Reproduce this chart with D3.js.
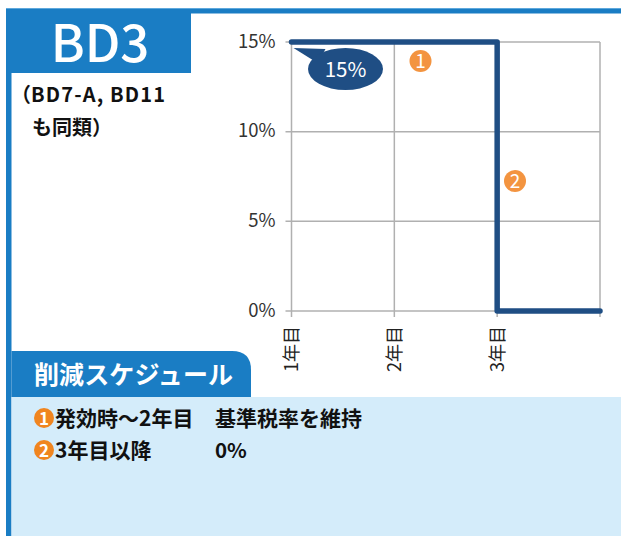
<!DOCTYPE html>
<html><head><meta charset="utf-8">
<script src="https://cdnjs.cloudflare.com/ajax/libs/d3/7.8.5/d3.min.js"></script>
<style>html,body{margin:0;padding:0;background:#fff;overflow:hidden}svg{display:block}text{font-family:"Noto Sans CJK JP","Noto Sans",sans-serif}</style>
</head><body><svg id="c" width="621" height="536"></svg>
<script>
const categories = ["1年目","2年目","3年目",""];
const stepPoints = [[0,15],[1,15],[2,15],[2,0],[3,0]];
const yTicks = [0,5,10,15];
const title = "BD3";
const subtitleParen = "（";
const subtitle = ["BD7-A, BD11","も同類）"];
const calloutLabel = "15%";
const sectionTitle = "削減スケジュール";
const scheduleRows = [["発効時〜2年目","基準税率を維持"],["3年目以降","0%"]];

const blue="#1a7dc4", navy="#1f4e84", orange="#f39440", grid="#b0b0b0";
const svg=d3.select("#c");
const x=d3.scalePoint().domain(categories.map((d,i)=>i)).range([291.5,600]);
const y=d3.scaleLinear().domain([0,15]).range([311,42]);

// frame
svg.append("rect").attr("x",6).attr("y",8).attr("width",615).attr("height",5.5).attr("fill",blue);
svg.append("rect").attr("x",6).attr("y",8).attr("width",5.5).attr("height",528).attr("fill",blue);
svg.append("rect").attr("x",6).attr("y",8).attr("width",615).attr("height",1).attr("fill","#5ea8dc");
svg.append("rect").attr("x",6).attr("y",13).attr("width",185).attr("height",60).attr("fill",blue);
svg.append("text").attr("x",100).attr("y",61.5).attr("text-anchor","middle").attr("font-size",51).attr("font-weight",500).attr("fill","#fff").text(title);
svg.append("text").attr("x",11).attr("y",102).attr("font-size",20).attr("font-weight",700).attr("fill","#111").text(subtitleParen);
svg.append("text").attr("x",31).attr("y",102).attr("font-size",20).attr("font-weight",700).attr("fill","#111").attr("textLength",134).text(subtitle[0]);
svg.append("text").attr("x",32).attr("y",135).attr("font-size",20).attr("font-weight",700).attr("fill","#111").text(subtitle[1]);

// grid
const g=svg.append("g");
g.selectAll(".h").data(yTicks).join("line").attr("x1",285.5).attr("x2",600).attr("y1",d=>y(d)).attr("y2",d=>y(d)).attr("stroke",grid).attr("stroke-width",1.5);
g.selectAll(".v").data(categories.map((d,i)=>i)).join("line").attr("x1",d=>x(d)).attr("x2",d=>x(d)).attr("y1",42).attr("y2",317).attr("stroke",grid).attr("stroke-width",1.5);
g.selectAll(".yl").data(yTicks).join("text").attr("x",275.5).attr("y",d=>y(d)+5.5).attr("text-anchor","end").attr("font-size",18.5).attr("fill","#333").text(d=>d+"%");
g.selectAll(".xl").data(categories).join("text").attr("transform",(d,i)=>`translate(${x(i)+6.5},326) rotate(-90)`).attr("text-anchor","end").attr("font-size",18).attr("fill","#222").text(d=>d);

// series
const line=d3.line().x(d=>x(d[0])).y(d=>y(d[1]));
svg.append("path").attr("d",line(stepPoints)).attr("fill","none").attr("stroke",navy).attr("stroke-width",5.5).attr("stroke-linejoin","round").attr("stroke-linecap","round");

// callout
const cx=345.5, cy=69;
svg.append("path").attr("d",`M${x(0)+2},${y(15)+6}L${cx-20},${cy-20}L${cx-28},${cy-6}Z`).attr("fill",navy);
svg.append("ellipse").attr("cx",cx).attr("cy",cy).attr("rx",37.5).attr("ry",21).attr("fill",navy);
svg.append("text").attr("x",cx).attr("y",cy+8).attr("text-anchor","middle").attr("font-size",20.5).attr("fill","#fff").text(calloutLabel);

// number badges
[[420.5,61,"1"],[515,181,"2"]].forEach(([a,b,t])=>{
 svg.append("circle").attr("cx",a).attr("cy",b).attr("r",11).attr("fill",orange);
 svg.append("text").attr("x",a).attr("y",b+7).attr("text-anchor","middle").attr("font-size",19).attr("fill","#fff").text(t);
});

// bottom panel
svg.append("rect").attr("x",11.5).attr("y",397).attr("width",610).attr("height",139).attr("fill","#d4ecfa");
svg.append("path").attr("d","M11.5,351H232Q251,351 251,370V397H11.5Z").attr("fill",blue);
svg.append("text").attr("x",34).attr("y",384).attr("font-size",25).attr("font-weight",700).attr("fill","#fff").attr("textLength",199).text(sectionTitle);
scheduleRows.forEach((r,i)=>{
 const yy=426+i*32;
 svg.append("circle").attr("cx",44).attr("cy",yy-8).attr("r",10).attr("fill","#f0851f");
 svg.append("text").attr("x",44).attr("y",yy-1.5).attr("text-anchor","middle").attr("font-size",17).attr("font-weight",700).attr("fill","#fff").text(i+1);
 svg.append("text").attr("x",55).attr("y",yy).attr("font-size",21).attr("font-weight",700).attr("fill","#111").text(r[0]);
 svg.append("text").attr("x",215).attr("y",yy).attr("font-size",i?20.5:21).attr("font-weight",700).attr("fill","#111").text(r[1]);
});
</script></body></html>
